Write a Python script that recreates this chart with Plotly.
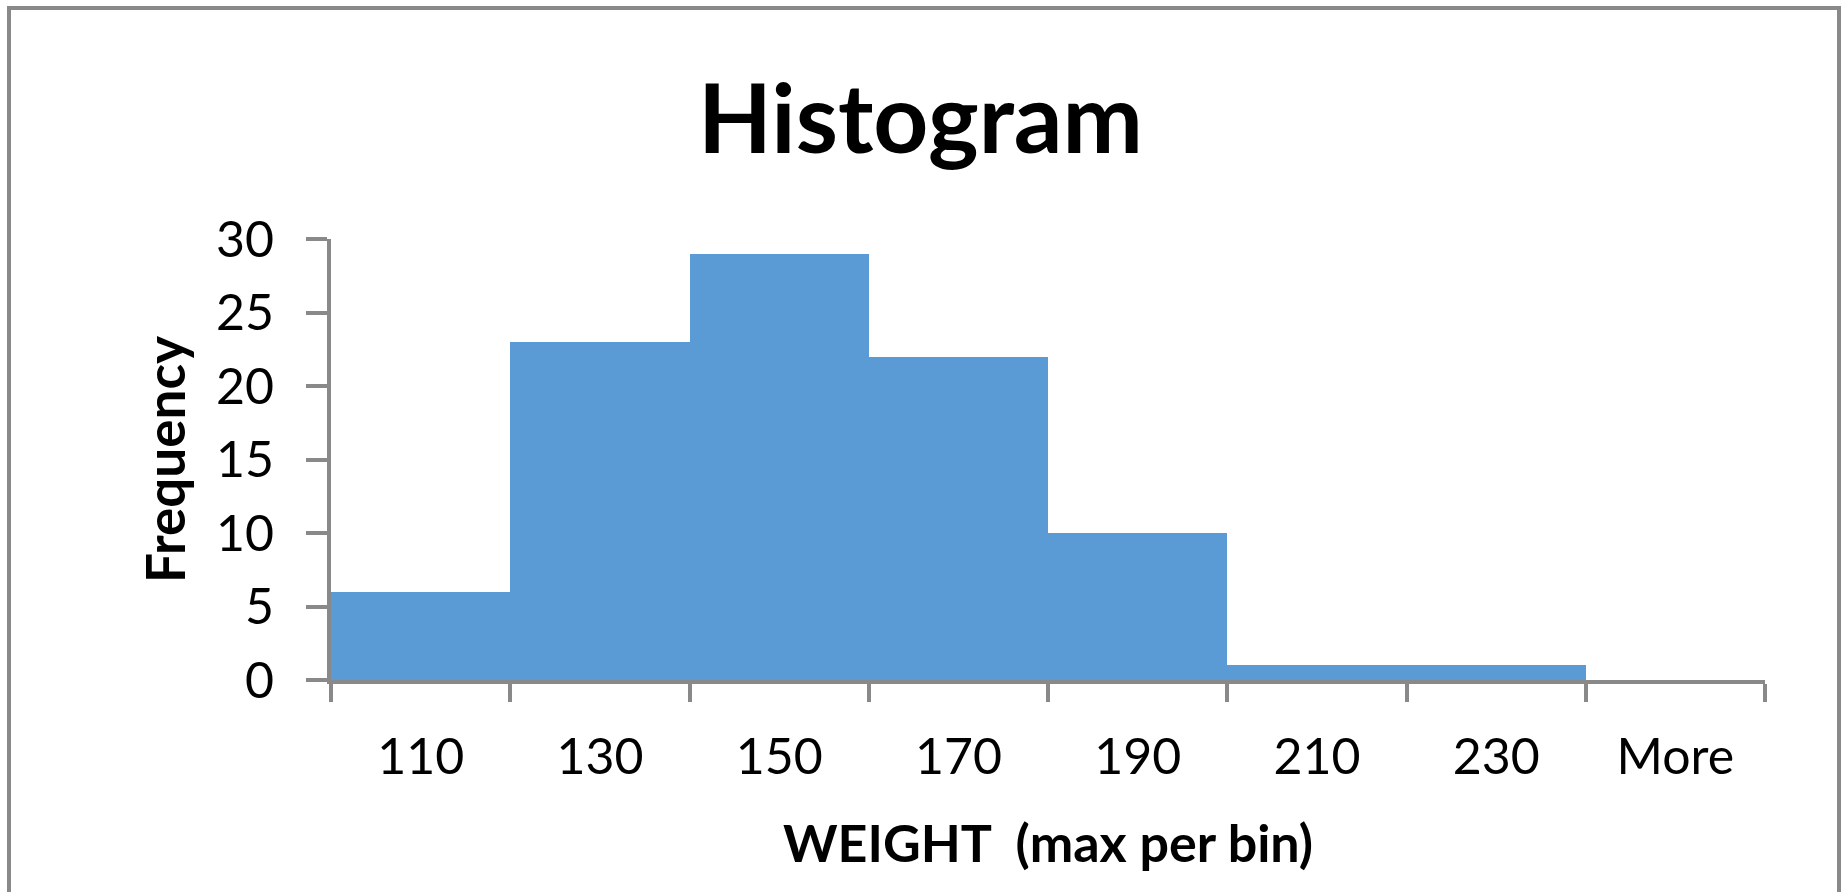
import plotly.graph_objects as go

categories = ["110", "130", "150", "170", "190", "210", "230", "More"]
frequency = [6, 23, 29, 22, 10, 1, 1, 0]
y_ticks = [0, 5, 10, 15, 20, 25, 30]

W, H = 1841, 892
L, R, T, B = 331, 76, 239, 212
pw, ph = W - L - R, H - T - B

def px_x(x):
    return (x - L) / pw

def px_y(y):
    return (H - B - y) / ph

axis_color = "#898989"
font_family = "Lato"

fig = go.Figure(
    go.Bar(
        x=categories,
        y=frequency,
        marker=dict(color="#5B9BD5", line=dict(width=0)),
        hoverinfo="x+y",
    )
)

fig.update_layout(
    width=W,
    height=H,
    margin=dict(l=L, r=R, t=T, b=B),
    paper_bgcolor="white",
    plot_bgcolor="white",
    bargap=0,
    showlegend=False,
    title=dict(
        text="Histogram",
        x=0.5,
        xref="container",
        xanchor="center",
        y=1 - 119 / H,
        yanchor="middle",
        font=dict(family=font_family, size=96, color="black", weight="bold"),
    ),
    xaxis=dict(
        type="category",
        range=[-0.5, 7.5],
        showgrid=False,
        showline=True,
        linecolor=axis_color,
        linewidth=4,
        ticks="outside",
        tickson="boundaries",
        ticklen=18,
        tickwidth=4,
        tickcolor=axis_color,
        ticklabelstandoff=30,
        tickfont=dict(family=font_family, size=50, color="black"),
        title=dict(
            text="WEIGHT\u00a0\u00a0(max per bin)",
            font=dict(family=font_family, size=52, color="black", weight="bold"),
            standoff=43,
        ),
        zeroline=False,
    ),
    yaxis=dict(
        range=[0, 30],
        tickvals=y_ticks,
        showgrid=False,
        showline=True,
        linecolor=axis_color,
        linewidth=4,
        ticks="outside",
        ticklen=21,
        tickwidth=4,
        tickcolor=axis_color,
        ticklabelstandoff=22,
        tickfont=dict(family=font_family, size=50, color="black"),
        title=dict(
            text="Frequency",
            font=dict(family=font_family, size=53, color="black", weight="bold"),
            standoff=14,
        ),
        zeroline=False,
    ),
    shapes=[
        dict(
            type="rect",
            xref="paper",
            yref="paper",
            x0=px_x(9),
            x1=px_x(1839),
            y0=px_y(905),
            y1=px_y(8),
            line=dict(color=axis_color, width=4),
            fillcolor="rgba(0,0,0,0)",
            layer="below",
        )
    ],
)

fig.write_html(
    "out.html",
    config={"displayModeBar": False},
    post_script="document.body.style.margin='0';document.body.style.overflow='hidden';",
)
